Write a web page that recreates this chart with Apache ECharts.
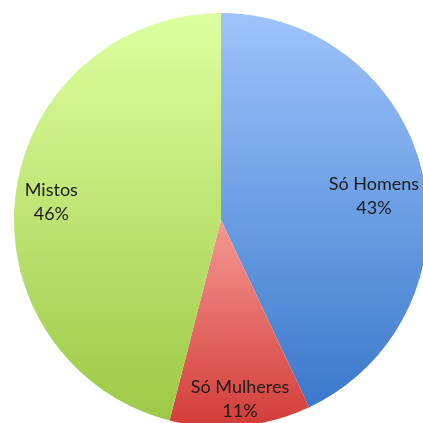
<!DOCTYPE html>
<html>
<head>
<meta charset="utf-8">
<script src="https://cdn.jsdelivr.net/npm/echarts@6/dist/echarts.min.js"></script>
<style>
  html, body { margin: 0; padding: 0; background: #fff; }
  #chart { width: 423px; height: 423px; }
</style>
</head>
<body>
<div id="chart"></div>
<script>
// dados do gráfico
const categorias = ['Só Homens', 'Só Mulheres', 'Mistos']
const valores = [43, 11, 46]
const percentagens = ['43%', '11%', '46%']

// cores (topo -> base)
const coresTopo = ['#9EC4FB', '#F69894', '#DEFFA0']
const coresBase = ['#3A78CA', '#D23C38', '#9EC846']
// deslocamento das etiquetas em relação à posição "inside"
const deslocEtiquetas = [[49, -1], [9, 73], [-64, -4]]

function grad(i) {
  return new echarts.graphic.LinearGradient(0, 0, 0, 1, [
    { offset: 0, color: coresTopo[i] },
    { offset: 1, color: coresBase[i] }
  ])
}

let myChart = echarts.init(document.getElementById('chart'))
let option = {
  animation: false,
  series: [{
    type: 'pie',
    center: [221, 220],
    radius: 207,
    startAngle: 90,
    clockwise: true,
    avoidLabelOverlap: false,
    data: categorias.map(function (nome, i) {
      return {
        name: nome,
        value: valores[i],
        itemStyle: { color: grad(i) }
      }
    }),
    itemStyle: {
      borderWidth: 0
    },
    label: {
      show: true,
      position: 'inside',
      formatter: function (p) {
        return p.name + '\n' + percentagens[p.dataIndex]
      },
      color: '#1c1c1c',
      fontFamily: 'Lato',
      fontSize: 18,
      lineHeight: 24,
      align: 'center'
    },
    labelLine: { show: false },
    labelLayout: function (p) {
      return {
        dx: deslocEtiquetas[p.dataIndex][0],
        dy: deslocEtiquetas[p.dataIndex][1]
      }
    },
    emphasis: { disabled: true }
  }]
}
myChart.setOption(option)
</script>
</body>
</html>
